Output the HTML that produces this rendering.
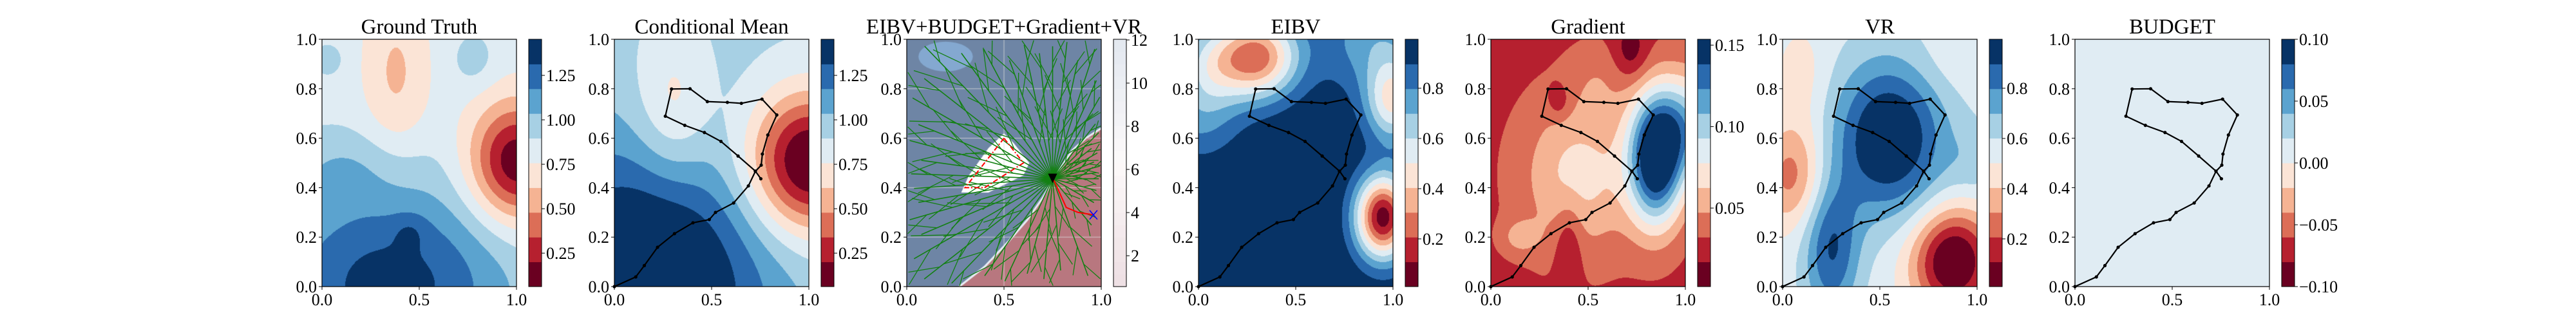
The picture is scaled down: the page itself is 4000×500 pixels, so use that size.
<!DOCTYPE html>
<html><head><meta charset="utf-8">
<style>
html,body{margin:0;padding:0;background:#fff;}
#fig{position:relative;width:4000px;height:500px;overflow:hidden;background:#fff;}
canvas{position:absolute;}
svg{position:absolute;left:0;top:0;}
text{font-family:"Liberation Serif","DejaVu Serif",serif;fill:#000;}
</style></head>
<body>
<div id="fig">
<svg id="ov" width="4000" height="500"></svg>
</div>
<script>
// ---------- data ----------
const panelTitles = ["Ground Truth","Conditional Mean","EIBV+BUDGET+Gradient+VR","EIBV","Gradient","VR","BUDGET"];
const panelLefts = [500,954,1408,1861,2315,2768,3222];
// field bumps: [cx, cy, sx, sy, amp] in normalized colour units
const gtBase = 0.55;
const gtBumps = [[0.35,0.0,0.45,0.3,0.4],[1.0,0.5,0.17,0.17,-0.55],[0.38,0.85,0.12,0.25,-0.17],[0.78,0.92,0.08,0.08,0.1],[0.03,0.92,0.06,0.05,0.1],[0.1,0.5,0.25,0.1,0.08],[0.45,0.22,0.06,0.05,0.08]];
const cmBase = 0.62;
const cmBumps = [[0.15,0.0,0.45,0.4,0.5],[0.3,0.72,0.14,0.22,-0.2],[1.0,0.5,0.22,0.2,-0.68]];
const eibvBase = 1.0;
const eibvBumps = [[0.3,0.93,0.15,0.12,-0.75],[0.95,0.28,0.1,0.12,-0.95],[1.0,0.75,0.1,0.12,-0.5],[0.9,1.0,0.2,0.15,-0.25],[0.0,0.68,0.15,0.12,-0.2],[0.05,0.9,0.12,0.12,-0.3]];
const gradBase = 0.17;
const gradBumps = [[0.45,0.45,0.2,0.22,0.27],[0.85,0.5,0.1,0.18,0.8],[1.0,0.65,0.15,0.15,0.45],[0.4,0.18,0.05,0.12,-0.15],[0.72,0.95,0.06,0.08,-0.15],[0.35,0.75,0.04,0.05,-0.12],[0.15,0.2,0.07,0.05,0.15],[0.55,0.85,0.1,0.1,0.08]];
const vrBase = 0.55;
const vrBumps = [[0.55,0.6,0.2,0.22,0.5],[0.25,0.15,0.1,0.2,0.35],[0.88,0.1,0.15,0.15,-0.6],[0.05,0.45,0.12,0.15,-0.3],[0.1,0.85,0.1,0.15,-0.1],[0.85,0.9,0.15,0.1,-0.05],[1.0,0.5,0.1,0.1,0.1]];
const budgetBase = 0.55;
const budgetBumps = [];
// trajectory
const trajX = [0,0.11,0.154,0.222,0.309,0.404,0.488,0.52,0.613,0.689,0.725,0.755,0.761,0.789,0.835,0.759,0.653,0.581,0.478,0.389,0.294,0.262,0.362,0.463,0.548,0.636,0.725,0.753];
const trajY = [0,0.039,0.085,0.159,0.214,0.258,0.271,0.30,0.338,0.407,0.466,0.491,0.536,0.613,0.694,0.758,0.741,0.745,0.748,0.80,0.799,0.689,0.652,0.623,0.587,0.528,0.467,0.436];
// colorbar ranges & ticks
const cbMins = [0.062,0.062,0.57,0.01,0.0018,0.01,-0.1];
const cbMaxs = [1.453,1.453,12.03,0.995,0.1536,0.995,0.1];
const cbTicks = [[0.25,0.5,0.75,1.0,1.25],[0.25,0.5,0.75,1.0,1.25],[2,4,6,8,10,12],[0.2,0.4,0.6,0.8],[0.05,0.10,0.15],[0.2,0.4,0.6,0.8],[-0.1,-0.05,0,0.05,0.1]];
const cbTickLabels = [["0.25","0.50","0.75","1.00","1.25"],["0.25","0.50","0.75","1.00","1.25"],["2","4","6","8","10","12"],["0.2","0.4","0.6","0.8"],["0.05","0.10","0.15"],["0.2","0.4","0.6","0.8"],["\u22120.10","\u22120.05","0.00","0.05","0.10"]];
const xTicks = [0,0.5,1.0], xTickLabels = ["0.0","0.5","1.0"];
const yTicks = [0,0.2,0.4,0.6,0.8,1.0], yTickLabels = ["0.0","0.2","0.4","0.6","0.8","1.0"];
// RRT tree (middle panel): ray angles (deg) and reach fractions
const treeAngles = [0,8,15,22,30,38,45,52,60,66,72,78,84,90,96,102,110,118,126,134,142,150,158,165,172,178,184,190,196,203,210,218,226,235,245,255,265,275,290,310,330,345];
const treeReach = [0.95,0.9,0.97,0.85,0.92,0.8,0.95,0.88,0.97,0.9,0.93,0.85,0.98,0.95,0.9,0.96,0.85,0.93,0.9,0.95,0.88,0.96,0.92,0.98,0.9,0.97,0.95,0.92,0.98,0.9,0.95,0.93,0.97,0.9,0.95,0.88,0.93,0.85,0.9,0.8,0.85,0.9];
const pinkRegionX = [0.27,0.4,0.52,0.62,0.7,0.76,0.85,0.92,1.0,1.0,0.27];
const pinkRegionY = [0,0.08,0.18,0.27,0.36,0.44,0.55,0.6,0.64,0,0];
const whiteRegionX = [0.28,0.42,0.6,0.63,0.55,0.5,0.42,0.32];
const whiteRegionY = [0.38,0.38,0.45,0.5,0.58,0.62,0.56,0.45];
const redPolyX = [0.5,0.3,0.4,0.6,0.5];
const redPolyY = [0.6,0.4,0.4,0.5,0.6];
const redPathX = [0.753,0.82,0.88,0.96];
const redPathY = [0.436,0.32,0.3,0.29];

const bandColors = ["#6a0021","#b6202f","#dc6e57","#f5b393","#fbe4d6","#e0ecf3","#a7d0e4","#5ba3cf","#2a6aae","#073366"];

// ---------- geometry ----------
const TOP=61, BOT=445, W=302, H=384, CBOFF=321, CBW=20;
const NS="http://www.w3.org/2000/svg";
const ov=document.getElementById('ov');
const fig=document.getElementById('fig');
function el(tag,attrs,parent){const e=document.createElementNS(NS,tag);for(const k in attrs)e.setAttribute(k,attrs[k]);(parent||ov).appendChild(e);return e;}
function sx(i,x){return panelLefts[i]+x*W;}
function sy(y){return BOT-y*H;}
function hex(c){return [parseInt(c.slice(1,3),16),parseInt(c.slice(3,5),16),parseInt(c.slice(5,7),16)];}

const bases=[gtBase,cmBase,null,eibvBase,gradBase,vrBase,budgetBase];
const bumpsList=[gtBumps,cmBumps,null,eibvBumps,gradBumps,vrBumps,budgetBumps];

for(let i=0;i<7;i++){
  const cv=document.createElement('canvas');
  cv.width=W;cv.height=H;cv.style.left=panelLefts[i]+'px';cv.style.top=TOP+'px';
  
  
  fig.insertBefore(cv,ov);
  const ctx=cv.getContext('2d');
  if(i!==2){
    const img=ctx.createImageData(W,H);
    const cols=bandColors.map(hex);
    for(let py=0;py<H;py++){for(let px=0;px<W;px++){
      const x=px/(W-1),y=1-py/(H-1);let t=bases[i];
      for(const b of bumpsList[i]){const dx=(x-b[0])/b[2],dy=(y-b[1])/b[3];t+=b[4]*Math.exp(-0.5*(dx*dx+dy*dy));}
      let k=Math.floor(t*10);k=Math.max(0,Math.min(9,k));
      const c=cols[k],o=(py*W+px)*4;img.data[o]=c[0];img.data[o+1]=c[1];img.data[o+2]=c[2];img.data[o+3]=255;}}
    ctx.putImageData(img,0,0);
  } else {
    ctx.fillStyle="#6e85a5";ctx.fillRect(0,0,W,H);
    ctx.fillStyle="#84a8d0";ctx.beginPath();ctx.ellipse(0.2*W,0.07*H,0.14*W,0.06*H,0,0,Math.PI*2);ctx.fill();
    ctx.fillStyle="#b8777f";ctx.beginPath();
    pinkRegionX.forEach((x,j)=>{const X=x*W,Y=(1-pinkRegionY[j])*H;j?ctx.lineTo(X,Y):ctx.moveTo(X,Y);});ctx.fill();
    ctx.strokeStyle="#e8eef4";ctx.lineWidth=3;ctx.beginPath();
    pinkRegionX.slice(0,9).forEach((x,j)=>{const X=x*W,Y=(1-pinkRegionY[j])*H;j?ctx.lineTo(X,Y):ctx.moveTo(X,Y);});ctx.stroke();
    ctx.fillStyle="#ffffff";ctx.beginPath();
    whiteRegionX.forEach((x,j)=>{const X=x*W,Y=(1-whiteRegionY[j])*H;j?ctx.lineTo(X,Y):ctx.moveTo(X,Y);});ctx.fill();
    ctx.strokeStyle="rgba(220,220,220,0.8)";ctx.lineWidth=1;
    [0.2,0.4,0.6,0.8].forEach(g=>{ctx.beginPath();ctx.moveTo(0,(1-g)*H);ctx.lineTo(W,(1-g)*H);ctx.stroke();});
    ctx.beginPath();ctx.moveTo(0.5*W,0);ctx.lineTo(0.5*W,H);ctx.stroke();
  }
}

// middle panel overlays
(function(){
  const i=2;const rx=sx(i,0.75),ry=sy(0.436);
  const defs=el('defs',{});
  const cp=el('clipPath',{id:'midclip'},defs);
  el('rect',{x:panelLefts[i],y:TOP,width:W,height:H},cp);
  const g=el('g',{"clip-path":"url(#midclip)"});
  
  
  function reach(x0,y0,a){const c=Math.cos(a),s=-Math.sin(a);let t=1e9;
    if(c>1e-6)t=Math.min(t,(panelLefts[i]+W-x0)/c);if(c<-1e-6)t=Math.min(t,(panelLefts[i]-x0)/c);
    if(s>1e-6)t=Math.min(t,(BOT-y0)/s);if(s<-1e-6)t=Math.min(t,(TOP-y0)/s);return Math.max(0,t);}
  treeAngles.forEach((deg,j)=>{
    const a=deg*Math.PI/180,L=reach(rx,ry,a)*treeReach[j];
    const ex=rx+L*Math.cos(a),ey=ry-L*Math.sin(a);
    const ln=el('line',{x1:rx,y1:ry,x2:ex,y2:ey,stroke:"#138013","stroke-width":1.6},g);
    
    
    [0.3,0.5,0.7,0.88].forEach((f,k)=>{
      const sgn=((j+k)%2?1:-1),b=a+sgn*0.5;const bx=rx+L*f*Math.cos(a),by=ry-L*f*Math.sin(a);
      const bl=Math.min(L*0.28,reach(bx,by,b)*0.95);
      const br=el('line',{x1:bx,y1:by,x2:bx+bl*Math.cos(b),y2:by-bl*Math.sin(b),stroke:"#138013","stroke-width":1.3},g);
      
      
    });
  });
  const rp=el('polyline',{points:redPolyX.map((x,j)=>sx(i,x)+','+sy(redPolyY[j])).join(' '),fill:"none",stroke:"#ff0000","stroke-width":2,"stroke-dasharray":"8,3,2,3"});
  
  
  const rpath=el('polyline',{points:redPathX.map((x,j)=>sx(i,x)+','+sy(redPathY[j])).join(' '),fill:"none",stroke:"#ff0000","stroke-width":2});
  
  
  const tx=sx(i,0.96),ty=sy(0.29);
  const xm=el('path',{d:`M${tx-6},${ty-7}L${tx+6},${ty+7}M${tx-6},${ty+7}L${tx+6},${ty-7}`,stroke:"#0000ff","stroke-width":1.5,fill:"none"});
  
  
  const tri=el('path',{d:`M${rx-7},${ry-8}L${rx+7},${ry-8}L${rx},${ry+7}Z`,fill:"#000"});
  
  
})();

// trajectories
[1,3,4,5,6].forEach(i=>{
  const pts=trajX.map((x,j)=>sx(i,x)+','+sy(trajY[j])).join(' ');
  const pl=el('polyline',{points:pts,fill:"none",stroke:"#000","stroke-width":2.2,"stroke-linejoin":"round"});
  
  
  trajX.forEach((x,j)=>{const c=el('circle',{cx:sx(i,x),cy:sy(trajY[j]),r:2.6,fill:"#000"});
    
    });
});

// axes, ticks, titles, colorbars
for(let i=0;i<7;i++){
  const L=panelLefts[i];
  const fr=el('rect',{x:L,y:TOP,width:W,height:H,fill:"none",stroke:"#000","stroke-width":1.2});
  
  
  const t=el('text',{x:L+W/2,y:52,"text-anchor":"middle","font-size":33});
  t.textContent=panelTitles[i];
  
  
  xTicks.forEach((v,j)=>{const X=sx(i,v);el('line',{x1:X,y1:BOT,x2:X,y2:BOT+5,stroke:"#000","stroke-width":1});
    const tl=el('text',{x:X,y:BOT+29,"text-anchor":"middle","font-size":26});tl.textContent=xTickLabels[j];
    
    });
  yTicks.forEach((v,j)=>{const Y=sy(v);el('line',{x1:L-5,y1:Y,x2:L,y2:Y,stroke:"#000","stroke-width":1});
    const tl=el('text',{x:L-8,y:Y+9,"text-anchor":"end","font-size":26});tl.textContent=yTickLabels[j];
    
    });
  const cx=L+CBOFF;
  const cb=el('g',{});
  
  
  if(i!==2){
    for(let k=0;k<10;k++)el('rect',{x:cx,y:BOT-(k+1)*H/10,width:CBW,height:H/10+0.5,fill:bandColors[k]},cb);
  } else {
    for(let k=0;k<20;k++){const f=k/19;let r,g,b;
      if(f<0.5){const u=f/0.5;r=238+(253-238)*u;g=224+(250-224)*u;b=228+(250-228)*u;}
      else{const u=(f-0.5)/0.5;r=253-(253-228)*u;g=250-(250-233)*u;b=250-(250-240)*u;}
      el('rect',{x:cx,y:BOT-(k+1)*H/20,width:CBW,height:H/20+0.5,fill:`rgb(${r|0},${g|0},${b|0})`},cb);}
  }
  el('rect',{x:cx,y:TOP,width:CBW,height:H,fill:"none",stroke:"#000","stroke-width":1},cb);
  cbTicks[i].forEach((v,j)=>{const Y=BOT-(v-cbMins[i])/(cbMaxs[i]-cbMins[i])*H;
    el('line',{x1:cx+CBW,y1:Y,x2:cx+CBW+5,y2:Y,stroke:"#000","stroke-width":1},cb);
    const tl=el('text',{x:cx+CBW+7,y:Y+9,"font-size":26},cb);tl.textContent=cbTickLabels[i][j];
    
    });
}
</script>
</body></html>
